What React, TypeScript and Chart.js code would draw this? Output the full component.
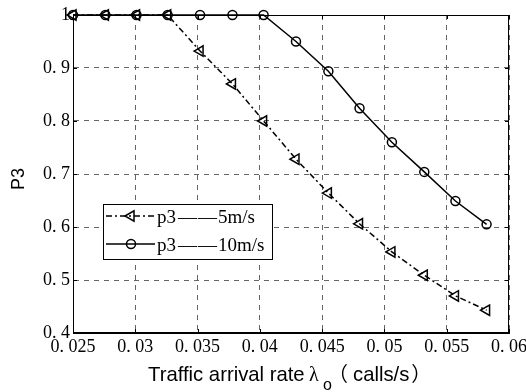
import React, { useEffect, useRef } from "react";
import { Chart, registerables } from "chart.js";

Chart.register(...registerables);

// ---- data ----
const arrivalRates = [0.025, 0.0276, 0.0301, 0.0326, 0.0352, 0.0378, 0.0403, 0.0429, 0.0455, 0.048, 0.0506, 0.0532, 0.0557, 0.0582];
const p3Speed5 = [1, 1, 1, 1, 0.932, 0.87, 0.8, 0.728, 0.664, 0.606, 0.553, 0.509, 0.47, 0.443];
const p3Speed10 = [1, 1, 1, 1, 1, 1, 1, 0.95, 0.894, 0.824, 0.76, 0.704, 0.649, 0.605];
const seriesLabels = ["p3——5m/s", "p3——10m/s"];
const xTickValues = [0.025, 0.03, 0.035, 0.04, 0.045, 0.05, 0.055, 0.06];
const xTickLabels = ["0. 025", "0. 03", "0. 035", "0. 04", "0. 045", "0. 05", "0. 055", "0. 06"];
const yTickValues = [0.4, 0.5, 0.6, 0.7, 0.8, 0.9, 1];
const yTickLabels = ["0. 4", "0. 5", "0. 6", "0. 7", "0. 8", "0. 9", "1"];
const xAxisTitle = "Traffic arrival rate";
const xAxisSymbol = "λ";
const xAxisSub = "o";
const xAxisUnit = "calls/s";
const yAxisTitle = "P3";

const SERIF = '"Liberation Serif", "Times New Roman", serif';
const SANS = '"Liberation Sans", Arial, sans-serif';
const CJK = '"Noto Sans CJK SC", sans-serif';

function drawMarker(ctx: CanvasRenderingContext2D, style: string, x: number, y: number, r: number) {
  ctx.beginPath();
  if (style === "circle") {
    ctx.arc(x, y, r, 0, Math.PI * 2);
  } else {
    const rad = -Math.PI / 2;
    for (let k = 0; k < 3; k++) {
      const a = rad + (k * 2 * Math.PI) / 3;
      const px = x + Math.sin(a) * r;
      const py = y - Math.cos(a) * r;
      if (k === 0) ctx.moveTo(px, py);
      else ctx.lineTo(px, py);
    }
    ctx.closePath();
  }
  ctx.stroke();
}

const decorPlugin = {
  id: "decor",
  afterDraw(chart: any) {
    const ctx: CanvasRenderingContext2D = chart.ctx;
    const { left, right, top, bottom } = chart.chartArea;
    const xs = chart.scales.x;
    const ys = chart.scales.y;
    ctx.save();
    // frame
    ctx.strokeStyle = "#000";
    ctx.lineWidth = 1;
    ctx.setLineDash([]);
    ctx.strokeRect(left + 0.5, top + 0.5, right - left - 1, bottom - top - 1);
    // inner ticks
    ctx.beginPath();
    xTickValues.forEach((v) => {
      const px = Math.round(xs.getPixelForValue(v)) + 0.5;
      ctx.moveTo(px, bottom);
      ctx.lineTo(px, bottom - 4);
      ctx.moveTo(px, top);
      ctx.lineTo(px, top + 4);
    });
    yTickValues.forEach((v) => {
      const py = Math.round(ys.getPixelForValue(v)) + 0.5;
      ctx.moveTo(left, py);
      ctx.lineTo(left + 4, py);
      ctx.moveTo(right, py);
      ctx.lineTo(right - 4, py);
    });
    ctx.stroke();

    // legend
    const bx = 103, by = 204, bw = 169, bh = 55;
    ctx.fillStyle = "#fff";
    ctx.fillRect(bx, by, bw, bh);
    ctx.strokeStyle = "#000";
    ctx.lineWidth = 1;
    ctx.strokeRect(bx + 0.5, by + 0.5, bw, bh);
    chart.data.datasets.forEach((ds: any, i: number) => {
      const cy = by + 12 + i * 28;
      ctx.strokeStyle = "#000";
      ctx.lineWidth = 1.5;
      ctx.setLineDash(ds.borderDash || []);
      ctx.beginPath();
      ctx.moveTo(106, cy);
      ctx.lineTo(155, cy);
      ctx.stroke();
      ctx.setLineDash([]);
      drawMarker(ctx, ds.pointStyle, 131, cy, ds.pointRadius);
      ctx.fillStyle = "#000";
      ctx.textBaseline = "alphabetic";
      ctx.textAlign = "left";
      const base = cy + 7;
      const parts = String(ds.label).split("——");
      let tx = 157;
      ctx.font = "19px " + SERIF;
      ctx.fillText(parts[0], tx, base);
      tx += ctx.measureText(parts[0]).width + 2;
      ctx.fillText("—", tx, base);
      tx += ctx.measureText("—").width + 1;
      ctx.fillText("—", tx, base);
      tx += ctx.measureText("—").width + 1;
      ctx.fillText(parts[1] || "", tx, base);
    });

    // x title
    ctx.fillStyle = "#000";
    ctx.textBaseline = "alphabetic";
    ctx.textAlign = "left";
    ctx.font = "20.3px " + SANS;
    ctx.fillText(xAxisTitle, 148, 381);
    ctx.font = "20px " + SERIF;
    ctx.fillText(xAxisSymbol, 309, 381);
    ctx.font = "16px " + SANS;
    ctx.fillText(xAxisSub, 323, 390);
    ctx.font = "20px " + CJK;
    ctx.fillText("（", 328, 381);
    ctx.font = "20.3px " + SANS;
    ctx.fillText(xAxisUnit, 353, 381);
    const uw = ctx.measureText(xAxisUnit).width;
    ctx.font = "20px " + CJK;
    ctx.fillText("）", 353 + uw + 2, 381);

    // y title
    ctx.translate(19, 179);
    ctx.rotate(-Math.PI / 2);
    ctx.font = "18px " + SANS;
    ctx.textAlign = "center";
    ctx.textBaseline = "middle";
    ctx.fillText(yAxisTitle, 0, 0);
    ctx.restore();
  },
};

export default function App() {
  const ref = useRef<HTMLCanvasElement | null>(null);
  useEffect(() => {
    if (!ref.current) return;
    const gridOpts = {
      color: "#666666",
      lineWidth: 1,
      drawTicks: false,
    };
    const chart = new Chart(ref.current, {
      type: "line",
      data: {
        labels: arrivalRates,
        datasets: [
          {
            label: seriesLabels[0],
            data: arrivalRates.map((x, i) => ({ x, y: p3Speed5[i] })),
            borderColor: "#000",
            borderWidth: 1.5,
            borderDash: [6, 3, 2, 3],
            pointStyle: "triangle",
            rotation: -90,
            pointRadius: 6,
            pointBorderWidth: 1.5,
            pointBorderColor: "#000",
            pointBackgroundColor: "rgba(0,0,0,0)",
            fill: false,
            tension: 0,
            clip: false,
          } as any,
          {
            label: seriesLabels[1],
            data: arrivalRates.map((x, i) => ({ x, y: p3Speed10[i] })),
            borderColor: "#000",
            borderWidth: 1.5,
            pointStyle: "circle",
            pointRadius: 4.5,
            pointBorderWidth: 1.5,
            pointBorderColor: "#000",
            pointBackgroundColor: "rgba(0,0,0,0)",
            fill: false,
            tension: 0,
            clip: false,
          } as any,
        ],
      },
      options: {
        animation: false,
        responsive: false,
        devicePixelRatio: 1,
        layout: { padding: { top: 15, right: 17, left: 0, bottom: 0 } },
        plugins: { legend: { display: false }, tooltip: { enabled: false }, title: { display: false } },
        scales: {
          x: {
            type: "linear",
            min: 0.025,
            max: 0.06,
            afterBuildTicks: (s: any) => {
              s.ticks = xTickValues.map((v) => ({ value: v }));
            },
            afterFit: (s: any) => {
              s.height = 59;
              s.paddingLeft = 0;
              s.paddingRight = 0;
            },
            ticks: {
              autoSkip: false,
              maxRotation: 0,
              minRotation: 0,
              padding: 3,
              color: "#000",
              font: { family: SERIF, size: 18 },
              callback: (_v: any, i: number) => xTickLabels[i],
            },
            grid: { ...gridOpts } as any,
            border: { display: true, color: "#000", width: 1, dash: [5, 5] } as any,
          },
          y: {
            type: "linear",
            min: 0.4,
            max: 1,
            afterBuildTicks: (s: any) => {
              s.ticks = yTickValues.map((v) => ({ value: v }));
            },
            afterFit: (s: any) => {
              s.width = 73;
              s.paddingTop = 0;
              s.paddingBottom = 0;
            },
            ticks: {
              autoSkip: false,
              padding: 3,
              color: "#000",
              font: { family: SERIF, size: 18 },
              callback: (_v: any, i: number) => yTickLabels[i],
            },
            grid: { ...gridOpts } as any,
            border: { display: true, color: "#000", width: 1, dash: [5, 5] } as any,
          },
        },
      } as any,
      plugins: [decorPlugin],
    });
    return () => chart.destroy();
  }, []);
  return (
    <canvas
      ref={ref}
      width={526}
      height={392}
      style={{ position: "absolute", left: 0, top: 0, width: 526, height: 392, display: "block", background: "#fff" }}
    />
  );
}
